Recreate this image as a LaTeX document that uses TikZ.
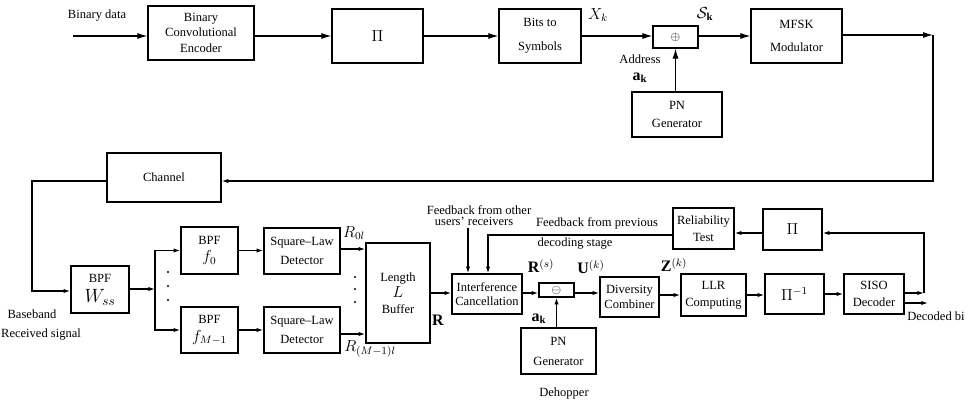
\documentclass[tikz,border=0pt]{standalone}
\usepackage{fontspec}
\setmainfont{Liberation Serif}
\usetikzlibrary{arrows.meta}
\newcommand\nbox[7][]{\node[box,#1,minimum width={(#5-#3)*0.75pt},minimum height={(#6-#4)*0.75pt}] (#2) at ({(#3+#5)/2},{(#4+#6)/2}) {#7};}
\begin{document}
\begin{tikzpicture}[x=0.75pt,y=-0.75pt,
  font=\fontsize{9.4}{11}\selectfont,
  box/.style={draw,line width=0.9pt,inner sep=0pt,align=center},
  arr/.style={-{Latex[length=7.5pt,width=4.5pt]},line width=0.8pt},
  arrs/.style={-{Latex[length=5pt,width=3.2pt]},line width=0.9pt},
  lbl/.style={inner sep=0pt,align=center}]
\useasboundingbox (0,0) rectangle (966,412);
% ---- transmitter ----
\nbox{enc}{148}{6}{254}{60}{Binary\\Convolutional\\[1pt]Encoder}
\nbox{pia}{332}{9}{423}{63}{\large$\Pi$}
\nbox{bts}{499}{9}{581}{63}{Bits to\\[7pt]Symbols}
\nbox{xor}{653}{26}{698}{48}{$\oplus$}
\nbox{pna}{632}{92}{722}{137}{PN\\[3pt]Generator}
\nbox{mfsk}{751}{9}{842}{63}{MFSK\\[6pt]Modulator}
\nbox{chan}{107}{153}{221}{202}{Channel}
% ---- receiver ----
\nbox[line width=1.1pt]{bpfw}{71}{266}{129}{313}{BPF\\[4pt]\Large$W_{ss}$}
\nbox[line width=1.1pt]{bpfa}{181}{227}{238}{274}{BPF\\[2pt]\large$f_0$}
\nbox[line width=1.1pt]{bpfb}{181}{307}{238}{353}{BPF\\[2pt]\large$f_{M-1}$}
\nbox[line width=1.1pt]{sqa}{264}{228}{340}{274}{Square--Law\\[3pt]Detector}
\nbox[line width=1.1pt]{sqb}{264}{307}{340}{353}{Square--Law\\[3pt]Detector}
\nbox[line width=1.1pt]{buf}{366}{243}{430}{343}{Length\\[1pt]\large$L$\\[1pt]Buffer}
\nbox[line width=1.1pt]{ic}{452}{274}{522}{314}{Interference\\Cancellation}
\nbox[line width=1.1pt]{mn}{539}{283}{574}{297}{$\ominus$}
\nbox[line width=1.1pt]{pnb}{521}{328}{596}{374}{PN\\[4pt]Generator}
\nbox[line width=1.1pt]{div}{600}{277}{659}{317}{Diversity\\Combiner}
\nbox[line width=1.1pt]{llr}{681}{274}{746}{316}{LLR\\[2pt]Computing}
\nbox[line width=1.1pt]{pinv}{765}{274}{824}{314}{\large$\Pi^{-1}$}
\nbox[line width=1.1pt]{siso}{844}{274}{904}{314}{SISO\\[2pt]Decoder}
\nbox[line width=1.1pt]{rel}{673}{208}{734}{249}{Reliability\\[2pt]Test}
\nbox[line width=1.1pt]{pib}{763}{209}{822}{250}{\large$\Pi$}
% ---- coordinates ----
\coordinate (in) at (73,36);
\coordinate (ta) at (933,35);
\coordinate (tb) at (933,181);
\coordinate (ca) at (32,181);
\coordinate (cb) at (32,291);
\coordinate (sp) at (155,289);
\coordinate (ya) at (0,249);
\coordinate (yb) at (0,334);
\coordinate (yr) at (0,293);
\coordinate (fo) at (468,228);
\coordinate (fb) at (488,235);
\coordinate (sa) at (924,293);
\coordinate (sb) at (924,233);
\coordinate (db) at (928,303);
% ---- transmitter connectors ----
\draw[arr] (in) -- (in -| enc.west);
\draw[arr] (in -| enc.east) -- (in -| pia.west);
\draw[arr] (in -| pia.east) -- (in -| bts.west);
\draw[arr] (in -| bts.east) -- (in -| xor.west);
\draw[arr] (xor.south |- pna.north) -- (xor.south);
\draw[arr] (in -| xor.east) -- (in -| mfsk.west);
\draw[arr] (mfsk.east |- ta) -- (ta);
\draw[arrs] (ta) -- (tb) -- (tb -| chan.east);
\draw[arrs] (ca -| chan.west) -- (ca) -- (cb) -- (cb -| bpfw.west);
% ---- receiver connectors ----
\draw[arrs] (sp -| bpfw.east) -- (sp);
\draw[arrs] (sp) |- (bpfa.west);
\draw[arrs] (sp) |- (bpfb.west);
\draw[arrs] (bpfa.east) -- (bpfa.east -| sqa.west);
\draw[arrs] (bpfb.east) -- (bpfb.east -| sqb.west);
\draw[arrs] (ya -| sqa.east) -- (ya -| buf.west);
\draw[arrs] (yb -| sqb.east) -- (yb -| buf.west);
\draw[arrs] (yr -| buf.east) -- (yr -| ic.west);
\draw[arrs] (yr -| ic.east) -- (yr -| mn.west);
\draw[arrs] (mn.south |- pnb.north) -- (mn.south);
\draw[arrs] (yr -| mn.east) -- (yr -| div.west);
\draw[arrs] (div.east |- llr.east) -- (llr.west);
\draw[arrs] (llr.east) -- (llr.east -| pinv.west);
\draw[arrs] (pinv.east) -- (pinv.east -| siso.west);
\draw[arrs] (sa -| siso.east) -- (sa);
\draw[arrs] (sa) -- (sb) -- (sb -| pib.east);
\draw[arrs] (db -| siso.east) -- (db);
\draw[arrs] (pib.west |- sb) -- (sb -| rel.east);
\draw[arrs] (rel.west |- fb) -- (fb) -- (fb |- ic.north);
\draw[arrs] (fo) -- (fo |- ic.north);
% ---- dots ----
\foreach \y in {272,286,300} \fill (168,\y) circle (1.1);
\foreach \y in {277,289,302} \fill (355,\y) circle (1.1);
% ---- labels ----
\node[lbl] (l1) at (97,15) {Binary data};
\node[lbl] (l2) at (598,15) {\large$X_k$};
\node[lbl] (l3) at (705,14) {\large$\mathcal{S}_{\mathbf{k}}$};
\node[lbl] (l4) at (640,59) {Address};
\node[lbl] (l5) at (640,78) {\large$\mathbf{a}_{\mathbf{k}}$};
\node[lbl] (l6) at (32,314) {Baseband};
\node[lbl] (l7) at (41,334) {Received signal};
\node[lbl] (l8) at (354,233) {\large$R_{0l}$};
\node[lbl] (l9) at (370,349) {\large$R_{(M-1)l}$};
\node[lbl] (l10) at (438,320) {\large$\mathbf{R}$};
\node[lbl] (l11) at (479,210) {Feedback from other};
\node[lbl] (l12) at (474,221) {users' receivers};
\node[lbl] (l13) at (597,223) {Feedback from previous};
\node[lbl] (l14) at (575,243) {decoding stage};
\node[lbl] (l15) at (541,266) {\large$\mathbf{R}^{(s)}$};
\node[lbl] (l16) at (591,267) {\large$\mathbf{U}^{(k)}$};
\node[lbl] (l17) at (674,265) {\large$\mathbf{Z}^{(k)}$};
\node[lbl] (l18) at (539,319) {\large$\mathbf{a}_{\mathbf{k}}$};
\node[lbl] (l19) at (564,393) {Dehopper};
\node[lbl,anchor=west] (l20) at (907,316) {Decoded bi};
\end{tikzpicture}
\end{document}
